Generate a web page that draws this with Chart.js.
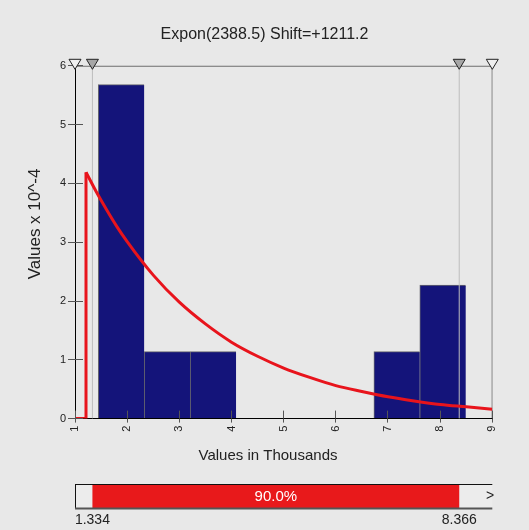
<!DOCTYPE html>
<html><head><meta charset="utf-8">
<script src="https://cdn.jsdelivr.net/npm/chart.js@4.4.1/dist/chart.umd.min.js"></script>
<style>
html,body{margin:0;padding:0;background:#e8e8e8;}
#wrap{width:529px;height:530px;position:relative;}
canvas{display:block;}
</style></head><body>
<div id="wrap"><canvas id="c" width="529" height="530"></canvas></div>
<script>
// ---- data ----
const titleText = 'Expon(2388.5) Shift=+1211.2';
const xTitle = 'Values in Thousands';
const yTitle = 'Values x 10^-4';
const binCenters = [1.887, 2.767, 3.648, 4.528, 5.409, 6.289, 7.170, 8.050];
const binDensity = [5.68, 1.14, 1.14, 0, 0, 0, 1.14, 2.27];
const curveBaseX = [1.0, 1.211, 1.211];
const curveBaseY = [0, 0, 4.19];
const curveX = [1.211, 1.4, 1.6, 1.8, 2.0, 2.5, 3.0, 3.5, 4.0, 4.5, 5.0, 5.5, 6.0, 6.5, 7.0, 7.5, 8.0, 8.5, 9.0];
const curveY = [4.19, 3.87, 3.56, 3.27, 3.01, 2.44, 1.98, 1.61, 1.30, 1.06, 0.86, 0.70, 0.56, 0.46, 0.37, 0.30, 0.24, 0.20, 0.16];
const xTicks = [1, 2, 3, 4, 5, 6, 7, 8, 9];
const yTicks = [0, 1, 2, 3, 4, 5, 6];
const rangeLo = 1, rangeHi = 9;
const markerLo = 1.334, markerHi = 8.366;
const markerLoLabel = '1.334', markerHiLabel = '8.366';
const pctLabel = '90.0%';

const FONT = "'Liberation Sans', Arial, sans-serif";
Chart.defaults.font.family = FONT;
Chart.defaults.color = '#222';

const pts = (xs, ys) => xs.map((x, i) => ({x, y: ys[i]}));
const align = v => Math.round(v - 0.5) + 0.5;

const overlay = {
  id: 'overlay',
  afterDatasetsDraw(chart) {
    const {ctx, chartArea: ca, scales: {x, y}} = chart;
    ctx.save();
    ctx.strokeStyle = '#555'; ctx.lineWidth = 1;
    yTicks.forEach(v => { const py = align(y.getPixelForValue(v)); ctx.beginPath(); ctx.moveTo(ca.left, py); ctx.lineTo(ca.left + 8, py); ctx.stroke(); });
    xTicks.forEach(v => { const px = align(x.getPixelForValue(v)); ctx.beginPath(); ctx.moveTo(px, ca.bottom); ctx.lineTo(px, ca.bottom - 8); ctx.stroke(); });
    const tri = (v, fill) => {
      const px = x.getPixelForValue(v), t = ca.top - 6.5;
      ctx.beginPath(); ctx.moveTo(px - 6, t); ctx.lineTo(px + 6, t); ctx.lineTo(px, t + 10); ctx.closePath();
      ctx.fillStyle = fill; ctx.fill(); ctx.strokeStyle = '#222'; ctx.lineWidth = 1; ctx.stroke();
    };
    tri(rangeLo, '#efefef'); tri(markerLo, '#a6a6a6'); tri(markerHi, '#a6a6a6'); tri(rangeHi, '#efefef');
    ctx.restore();
  },
  afterDraw(chart) {
    const {ctx, scales: {x}} = chart;
    ctx.save();
    ctx.fillStyle = '#222'; ctx.textAlign = 'center'; ctx.textBaseline = 'middle';
    ctx.font = '15px ' + FONT;
    ctx.fillText(xTitle, 268, 455.5);
    ctx.save(); ctx.translate(35.5, 224); ctx.rotate(-Math.PI / 2);
    ctx.font = '17px ' + FONT; ctx.fillText(yTitle, 0, 0); ctx.restore();
    // range bar
    const x0 = x.getPixelForValue(rangeLo), x1 = x.getPixelForValue(rangeHi);
    const a = x.getPixelForValue(markerLo), b = x.getPixelForValue(markerHi);
    const top = 484.5, bot = 508;
    ctx.fillStyle = '#ececec'; ctx.fillRect(x0, top, x1 - x0, bot - top);
    ctx.fillStyle = '#e8191b'; ctx.fillRect(a, top, b - a, bot - top);
    ctx.strokeStyle = '#111'; ctx.lineWidth = 1;
    ctx.beginPath(); ctx.moveTo(x0, top); ctx.lineTo(x1, top); ctx.stroke();
    ctx.beginPath(); ctx.moveTo(align(x0), top); ctx.lineTo(align(x0), bot); ctx.stroke();
    ctx.strokeStyle = '#555'; ctx.lineWidth = 2;
    ctx.beginPath(); ctx.moveTo(x0, bot + 0.5); ctx.lineTo(x1, bot + 0.5); ctx.stroke();
    ctx.fillStyle = '#fff'; ctx.font = '15px ' + FONT;
    ctx.fillText(pctLabel, (a + b) / 2, 496.5);
    ctx.fillStyle = '#222'; ctx.font = '14px ' + FONT;
    ctx.fillText('>', 490, 496);
    ctx.fillText(markerLoLabel, a, 520.5);
    ctx.fillText(markerHiLabel, b, 520.5);
    ctx.restore();
  }
};

new Chart(document.getElementById('c'), {
  type: 'bar',
  data: {
    datasets: [
      { type: 'bar', data: pts(binCenters, binDensity), backgroundColor: '#14147a', borderColor: '#66666e',
        borderWidth: {top: 1, left: 1, right: 0, bottom: 0}, borderSkipped: false, barPercentage: 1, categoryPercentage: 1, order: 6 },
      { type: 'line', data: pts([markerLo, markerLo], [0, 6]), borderColor: '#bdbdbd', borderWidth: 1, pointRadius: 0, order: 5 },
      { type: 'line', data: pts([markerHi, markerHi], [0, 6]), borderColor: '#bdbdbd', borderWidth: 1, pointRadius: 0, order: 5 },
      { type: 'line', data: pts([rangeHi, rangeHi], [0, 6]), borderColor: '#111', borderWidth: 1, pointRadius: 0, order: 4 },
      { type: 'line', data: pts([rangeLo, rangeHi], [6, 6]), borderColor: '#6e6e6e', borderWidth: 2, pointRadius: 0, order: 4 },
      { type: 'line', data: pts(curveBaseX, curveBaseY), borderColor: '#e8141c', borderWidth: 3, pointRadius: 0, borderJoinStyle: 'miter', order: 2 },
      { type: 'line', data: pts(curveX, curveY), borderColor: '#e8141c', borderWidth: 3, pointRadius: 0, cubicInterpolationMode: 'monotone', order: 1 }
    ]
  },
  options: {
    responsive: false, animation: false, devicePixelRatio: 1,
    layout: { padding: { left: 0, right: 0, top: 0, bottom: 0 } },
    plugins: {
      legend: { display: false }, tooltip: { enabled: false },
      title: { display: true, text: titleText, color: '#222', font: { size: 16, weight: 'normal', family: FONT }, padding: { top: 25.4, bottom: 21.2 } }
    },
    scales: {
      x: { type: 'linear', min: rangeLo, max: rangeHi, offset: false,
        afterFit: s => { s.height = 111.4; },
        afterBuildTicks: s => { s.ticks = xTicks.map(v => ({value: v})); },
        grid: { drawOnChartArea: false, tickLength: 4, color: '#555', offset: false },
        border: { color: '#000', width: 1 },
        ticks: { minRotation: 90, maxRotation: 90, font: { size: 11 }, color: '#222', padding: 3, autoSkip: false } },
      y: { type: 'linear', min: 0, max: 6,
        afterFit: s => { s.width = 75; },
        afterBuildTicks: s => { s.ticks = yTicks.map(v => ({value: v})); },
        grid: { drawOnChartArea: false, tickLength: 7, color: '#555' },
        border: { color: '#000', width: 1 },
        ticks: { font: { size: 11 }, color: '#222', padding: 2 } },
      yRight: { type: 'linear', position: 'right', min: 0, max: 6,
        afterFit: s => { s.width = 36.7; },
        grid: { display: false, drawTicks: false }, border: { display: false },
        ticks: { display: false } }
    }
  },
  plugins: [overlay]
});
</script>
</body></html>
